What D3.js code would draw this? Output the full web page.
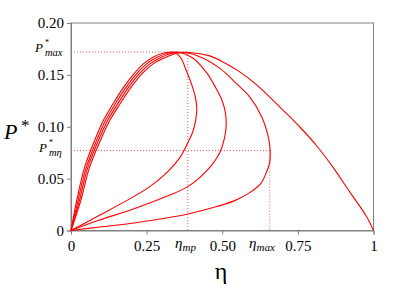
<!DOCTYPE html>
<html>
<head>
<meta charset="utf-8">
<script src="https://cdn.jsdelivr.net/npm/d3@7"></script>
<style>
  body { margin: 0; background: #fff; }
</style>
</head>
<body>
<div id="chart"></div>
<script>
// curva sin fuga (abierta) y tres lazos, puntos [eta, P*]
const curvaA = [[0,0],[0.0314,0.0279],[0.0611,0.0606],[0.1056,0.0923],[0.1295,0.1067],[0.1601,0.1212],
  [0.1972,0.1375],[0.2343,0.151],[0.2739,0.1611],[0.3152,0.1673],[0.3498,0.1709],[0.3927,0.1716],
  [0.4587,0.1683],[0.5083,0.1615],[0.5578,0.1529],[0.6139,0.1404],[0.6997,0.1163],[0.7558,0.1],
  [0.8119,0.0817],[0.8647,0.0615],[0.9208,0.0375],[0.9769,0.0135],[1,0]];
const lazoB = [[0,0],[0.0182,0.0279],[0.0446,0.0606],[0.0858,0.0923],[0.1081,0.1067],[0.137,0.1212],
  [0.1724,0.1375],[0.2079,0.151],[0.2409,0.1611],[0.2723,0.1673],[0.3036,0.1709],[0.3432,0.1716],
  [0.363,0.1663],[0.3828,0.1529],[0.3993,0.1404],[0.4109,0.1288],[0.4158,0.1183],[0.4125,0.1067],
  [0.4026,0.0952],[0.3861,0.0846],[0.3597,0.0702],[0.3201,0.0567],[0.2607,0.0423],[0.2013,0.0317],
  [0.0957,0.0149],[0,0]];
const lazoC = [[0,0],[0.0224,0.0279],[0.0502,0.0606],[0.0924,0.0923],[0.1152,0.1067],[0.1446,0.1212],
  [0.1807,0.1375],[0.2168,0.151],[0.2518,0.1611],[0.2865,0.1673],[0.3191,0.1709],[0.3597,0.1716],
  [0.4026,0.1663],[0.4488,0.1519],[0.4785,0.1375],[0.4983,0.126],[0.5099,0.1144],[0.5132,0.1029],
  [0.5083,0.0904],[0.4917,0.075],[0.4521,0.0587],[0.3861,0.0423],[0.3102,0.0322],[0.2013,0.0202],
  [0.0891,0.0096],[0,0]];
const lazoD = [[0,0],[0.0271,0.0279],[0.0554,0.0606],[0.099,0.0923],[0.1224,0.1067],[0.1525,0.1212],
  [0.1889,0.1375],[0.2254,0.151],[0.263,0.1611],[0.301,0.1673],[0.3343,0.1709],[0.3762,0.1716],
  [0.4356,0.1663],[0.495,0.1558],[0.5479,0.1413],[0.5908,0.1288],[0.6304,0.1096],[0.6535,0.0885],
  [0.6584,0.0769],[0.6568,0.0654],[0.6469,0.0567],[0.6271,0.0452],[0.5908,0.0365],[0.5413,0.0288],
  [0.4818,0.0231],[0.3861,0.0159],[0.2937,0.0111],[0.1947,0.0067],[0.0957,0.0034],[0,0]];
const curvas = [curvaA, lazoB, lazoC, lazoD];

const ticksX = [0, 0.25, 0.5, 0.75, 1];
const etiquetasX = ["0", "0.25", "0.50", "0.75", "1"];
const ticksY = [0, 0.05, 0.10, 0.15, 0.20];
const etiquetasY = ["0", "0.05", "0.10", "0.15", "0.20"];

// valores de referencia marcados con lineas punteadas
const pMax = 0.172, pMeta = 0.077, etaMp = 0.386, etaMax = 0.657;

const width = 415, height = 293;
const margin = {top: 23, right: 41, bottom: 62, left: 71};
const fuente = "'Liberation Serif', 'Times New Roman', serif";

const svg = d3.select("#chart").append("svg")
  .attr("width", width).attr("height", height)
  .attr("font-family", fuente);

const x = d3.scaleLinear().domain([0, 1]).range([margin.left, width - margin.right - 0.5]);
const y = d3.scaleLinear().domain([0, 0.2]).range([height - margin.bottom - 0.5, margin.top]);

const gris = "#808080";
const rojo = "#ff0000";

// marco
svg.append("rect")
  .attr("x", x(0)).attr("y", y(0.2))
  .attr("width", x(1) - x(0)).attr("height", y(0) - y(0.2))
  .attr("fill", "none").attr("stroke", gris).attr("stroke-width", 1);

// ejes
const ejeX = svg.append("g").attr("transform", `translate(0,${y(0)})`)
  .call(d3.axisBottom(x).tickValues(ticksX).tickSize(4).tickFormat((d, i) => etiquetasX[i]));
const ejeY = svg.append("g").attr("transform", `translate(${x(0)},0)`)
  .call(d3.axisLeft(y).tickValues(ticksY).tickSize(4).tickFormat((d, i) => etiquetasY[i]));
[ejeX, ejeY].forEach(g => {
  g.attr("font-family", fuente).attr("font-size", 15);
  g.select(".domain").attr("stroke", gris);
  g.selectAll(".tick line").attr("stroke", gris);
  g.selectAll(".tick text").attr("fill", "#000");
});
ejeX.selectAll(".tick text").attr("y", 8).attr("dy", "0.85em");
ejeY.selectAll(".tick text").attr("x", -7);

// lineas punteadas
const punteada = (x1, y1, x2, y2) => svg.append("line")
  .attr("x1", x1).attr("y1", y1).attr("x2", x2).attr("y2", y2)
  .attr("stroke", "#ff5050").attr("stroke-width", 1).attr("stroke-dasharray", "1,2");
punteada(x(0), y(pMax), x(etaMp), y(pMax));
punteada(x(etaMp), y(pMax), x(etaMp), y(0));
punteada(x(0), y(pMeta), x(etaMax), y(pMeta));
punteada(x(etaMax), y(pMeta), x(etaMax), y(0));

// curvas
const linea = d3.line().x(d => x(d[0])).y(d => y(d[1])).curve(d3.curveCatmullRom.alpha(0.5));
svg.selectAll(".curva").data(curvas).enter().append("path")
  .attr("class", "curva")
  .attr("d", linea)
  .attr("fill", "none").attr("stroke", rojo).attr("stroke-width", 1.1);

// etiquetas P* con sub/superindices (textos separados)
function etiquetaP(xx, yy, sub) {
  svg.append("text").attr("x", xx).attr("y", yy).attr("font-size", 13).attr("font-style", "italic").text("P");
  svg.append("text").attr("x", xx + 10).attr("y", yy - 7).attr("font-size", 8).text("*");
  svg.append("text").attr("x", xx + 10).attr("y", yy + 4).attr("font-size", 10.5).attr("font-style", "italic").text(sub);
}
etiquetaP(35, y(pMax), "max");
etiquetaP(39, y(pMeta) + 1, "mη");

function etiquetaEta(xx, yy, sub) {
  const t = svg.append("text").attr("x", xx).attr("y", yy)
    .attr("font-size", 15).attr("font-style", "italic");
  t.append("tspan").text("η");
  t.append("tspan").attr("dy", 3).attr("font-size", 11).text(sub);
}
etiquetaEta(175, 248, "mp");
etiquetaEta(249, 248, "max");

// titulos de ejes
svg.append("text").attr("x", 4).attr("y", 139).attr("font-size", 22).attr("font-style", "italic").text("P");
svg.append("text").attr("x", 21).attr("y", 131).attr("font-size", 17).text("*");
svg.append("text").attr("x", 221).attr("y", 279).attr("text-anchor", "middle")
  .attr("font-size", 24).text("η");
</script>
</body>
</html>
